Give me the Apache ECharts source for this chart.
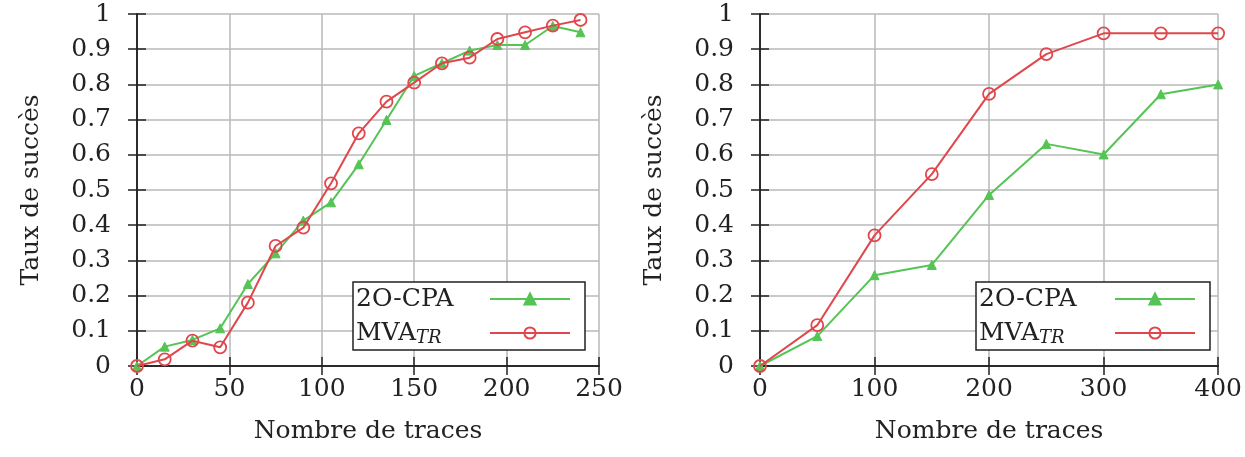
<!DOCTYPE html>
<html>
<head>
<meta charset="utf-8">
<script src="https://cdn.jsdelivr.net/npm/echarts@6/dist/echarts.min.js"></script>
<style>
html,body{margin:0;padding:0;background:#fff;}
#c{width:1245px;height:457px;}
</style>
</head>
<body>
<div id="c"></div>
<script>
// ---- data ----
const xLeft = [0, 15, 30, 45, 60, 75, 90, 105, 120, 135, 150, 165, 180, 195, 210, 225, 240];
const cpaLeft = [0, 0.055, 0.074, 0.107, 0.233, 0.32, 0.413, 0.465, 0.573, 0.699, 0.824, 0.86, 0.896, 0.912, 0.912, 0.966, 0.948];
const mvaLeft = [0, 0.019, 0.072, 0.053, 0.18, 0.341, 0.393, 0.519, 0.661, 0.751, 0.805, 0.86, 0.876, 0.929, 0.948, 0.967, 0.983];
const xRight = [0, 50, 100, 150, 200, 250, 300, 350, 400];
const cpaRight = [0, 0.085, 0.258, 0.287, 0.486, 0.631, 0.601, 0.772, 0.80];
const mvaRight = [0, 0.116, 0.371, 0.545, 0.773, 0.886, 0.945, 0.945, 0.945];
const yTicks = [0, 0.1, 0.2, 0.3, 0.4, 0.5, 0.6, 0.7, 0.8, 0.9, 1];
const xAxisTitle = 'Nombre de traces';
const yAxisTitle = 'Taux de succès';
const seriesNames = ['2O-CPA', 'MVA_TR'];

const GREEN = '#55c455';
const RED = '#e0474c';
const FONT = 'DejaVu Serif';
const FS = 25;

const pairs = (xs, ys) => xs.map((x, i) => [x, ys[i]]);

function xAx(grid, max, interval, main) {
  return {
    type: 'value', gridIndex: grid, min: 0, max: max, interval: interval,
    position: main ? 'bottom' : 'top',
    name: main ? xAxisTitle : '', nameLocation: 'middle', nameGap: 53,
    nameTextStyle: {fontFamily: FONT, fontSize: FS, color: '#222'},
    axisLine: {show: true, lineStyle: {color: '#222', width: 1.5}},
    axisTick: {show: true, inside: true, length: 9, lineStyle: {color: '#222', width: 1.5}},
    axisLabel: {show: main, margin: 11, fontFamily: FONT, fontSize: FS, color: '#222'},
    splitLine: {show: main, lineStyle: {color: '#b8b8b8', width: 1.5}}
  };
}
function yAx(grid, main) {
  return {
    type: 'value', gridIndex: grid, min: 0, max: 1, interval: 0.1,
    position: main ? 'left' : 'right',
    name: main ? yAxisTitle : '', nameLocation: 'middle', nameGap: 93, nameRotate: 90,
    nameTextStyle: {fontFamily: FONT, fontSize: FS, color: '#222'},
    axisLine: {show: true, lineStyle: {color: '#222', width: 1.5}},
    axisTick: {show: true, inside: true, length: 9, lineStyle: {color: '#222', width: 1.5}},
    axisLabel: {show: main, margin: 26, fontFamily: FONT, fontSize: FS, color: '#222',
      formatter: v => String(yTicks.find(t => Math.abs(t - v) < 1e-9) ?? v)},
    splitLine: {show: main, lineStyle: {color: '#b8b8b8', width: 1.5}}
  };
}
function cpaSeries(xi, yi, data) {
  return {
    name: seriesNames[0], type: 'line', xAxisIndex: xi, yAxisIndex: yi, data: data,
    symbol: 'triangle', symbolSize: 9, showAllSymbol: true,
    lineStyle: {color: GREEN, width: 2},
    itemStyle: {color: GREEN, borderColor: GREEN, borderWidth: 1},
    emphasis: {disabled: true}, animation: false, z: 3
  };
}
function mvaSeries(xi, yi, data) {
  return {
    name: seriesNames[1], type: 'line', xAxisIndex: xi, yAxisIndex: yi, data: data,
    symbol: 'circle', symbolSize: 12, showAllSymbol: true,
    lineStyle: {color: RED, width: 2},
    itemStyle: {color: 'rgba(255,255,255,0)', borderColor: RED, borderWidth: 1.8},
    emphasis: {disabled: true}, animation: false, z: 4
  };
}
function legend(left, width) {
  return {
    left: left, top: 282, orient: 'vertical', align: 'right',
    data: seriesNames,
    itemWidth: 80, itemHeight: 14, itemGap: 6,
    padding: [3, 14, 3, 3],
    backgroundColor: '#fff', borderColor: '#222', borderWidth: 1.5, borderRadius: 0,
    selectedMode: false,
    formatter: n => n === 'MVA_TR' ? '{t|MVA}{sub|TR}' : '{t|' + n + '}',
    textStyle: {
      fontFamily: FONT, fontSize: FS, color: '#222', width: width, lineHeight: 28,
      rich: {
        t: {fontFamily: FONT, fontSize: FS, color: '#222', align: 'left'},
        sub: {fontFamily: FONT, fontSize: 18, fontStyle: 'italic', color: '#222', align: 'left', padding: [10, 0, 0, 0]}
      }
    }
  };
}

const chart = echarts.init(document.getElementById('c'), null, {renderer: 'canvas'});
chart.setOption({
  animation: false,
  backgroundColor: '#fff',
  grid: [
    {left: 137, right: 1245 - 599, top: 14, bottom: 457 - 366, containLabel: false},
    {left: 760, right: 1245 - 1222, top: 14, bottom: 457 - 366, containLabel: false}
  ],
  xAxis: [xAx(0, 250, 50, true), xAx(0, 250, 50, false), xAx(1, 400, 100, true), xAx(1, 400, 100, false)],
  yAxis: [yAx(0, true), yAx(0, false), yAx(1, true), yAx(1, false)],
  legend: [legend(353, 129), legend(976, 131)],
  series: [
    cpaSeries(0, 0, pairs(xLeft, cpaLeft)),
    mvaSeries(0, 0, pairs(xLeft, mvaLeft)),
    cpaSeries(2, 2, pairs(xRight, cpaRight)),
    mvaSeries(2, 2, pairs(xRight, mvaRight))
  ]
});
</script>
</body>
</html>
